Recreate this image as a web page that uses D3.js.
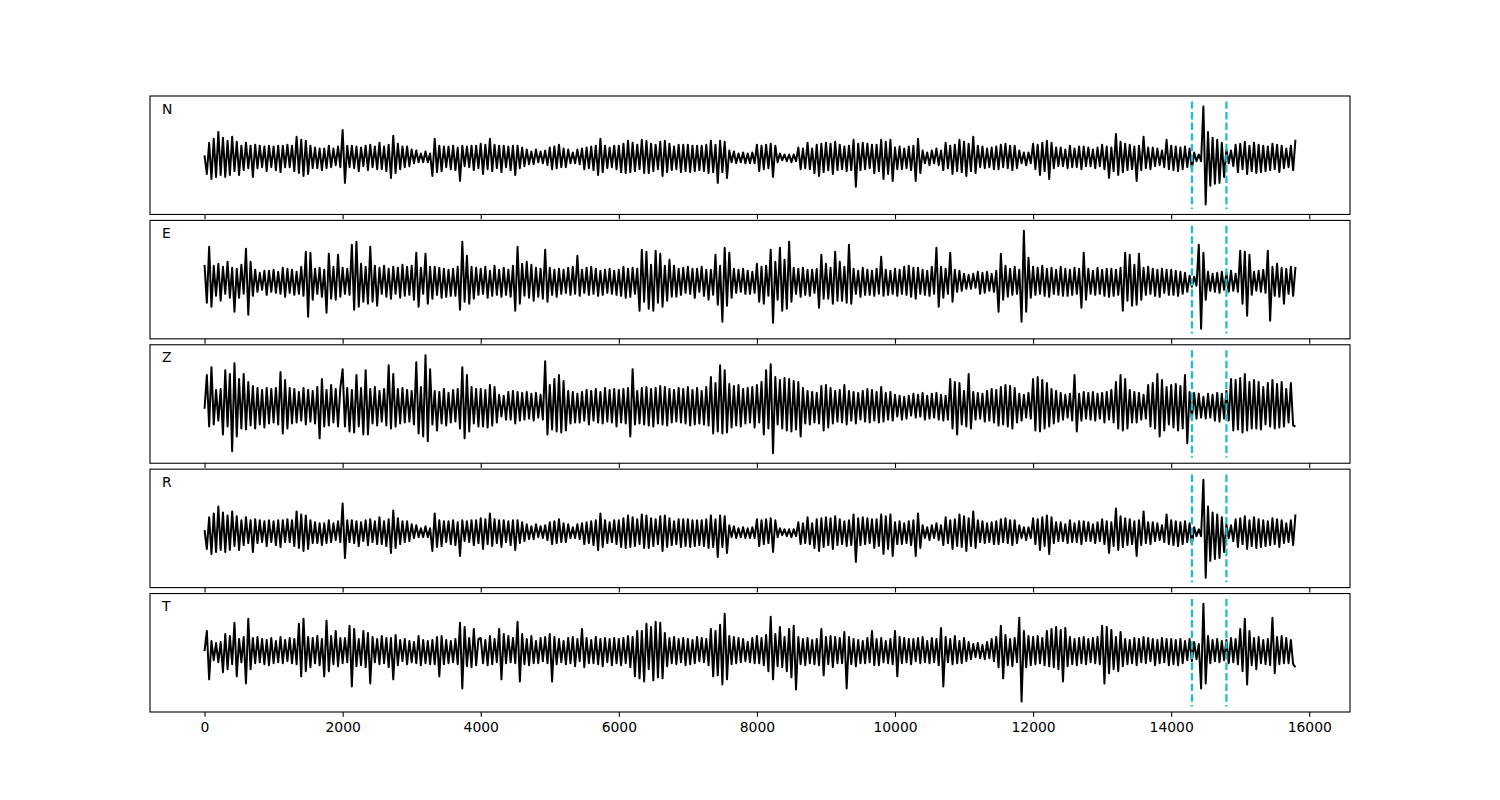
<!DOCTYPE html>
<html>
<head>
<meta charset="utf-8">
<script src="https://cdn.jsdelivr.net/npm/d3@7"></script>
<style>
  body { margin: 0; background: #fff; }
  text { font-family: "DejaVu Sans", sans-serif; }
</style>
</head>
<body>
<script>
// Channel names, one panel each
var channels = ["N", "E", "Z", "R", "T"];

// Sample spacing of the traces below (x units), three samples per 100
var sampleStep = 100 / 3;

// Last sample of every trace
var xEnd = 15800;

// Pick times (dashed cyan lines)
var pickTimes = [14300, 14800];

// X tick values
var xTicks = [0, 2000, 4000, 6000, 8000, 10000, 12000, 14000, 16000];

// Trace values (one row per 2000 x units)
var traceN = [
  2, -17, 15, -22, 19, -20, 26, -18, 20, -20, 17, -18, 21, -14, 16, -18, 12, -13, 15, -11, 12, -20, 13, -11, 12, -10, 11, -14, 12, -10, 11, -13, 12, -15, 12, -10, 13, -10, 12, -14, 21, -16, 18, -19, 17, -17, 12, -11, 10, -11, 9, -13, 9, -11, 12, -10, 9, -8, 11, -10,
  28, -26, 12, -10, 12, -11, 11, -14, 10, -9, 12, -13, 13, -10, 11, -12, 15, -12, 11, -14, 13, -21, 22, -16, 14, -12, 11, -10, 11, -9, 8, -6, 7, -5, 4, -5, 6, -5, 4, -19, 19, -15, 12, -14, 11, -10, 11, -12, 12, -13, 10, -24, 12, -9, 11, -10, 12, -13, 12, -11,
  14, -17, 13, -12, 19, -14, 13, -11, 12, -15, 12, -10, 11, -13, 12, -18, 12, -11, 10, -9, 8, -7, 6, -7, 8, -5, 6, -6, 7, -8, 10, -12, 11, -11, 13, -10, 9, -10, 8, -6, 5, -6, 8, -7, 9, -12, 10, -11, 11, -13, 12, -18, 19, -15, 12, -11, 10, -10, 12, -12,
  12, -15, 14, -16, 17, -15, 15, -14, 13, -12, 18, -16, 17, -16, 14, -14, 13, -12, 16, -19, 17, -15, 14, -13, 11, -12, 13, -15, 13, -14, 13, -15, 12, -14, 12, -13, 12, -14, 13, -16, 17, -15, 13, -26, 17, -15, 16, -21, 7, -5, 6, -6, 4, -5, 5, -6, 4, -6, 5, -6,
  13, -14, 12, -12, 13, -11, 14, -20, 12, -5, 4, -3, 3, -4, 3, -5, 3, -4, 10, -12, 9, -11, 15, -12, 9, -16, 13, -19, 14, -15, 15, -13, 14, -17, 16, -13, 13, -12, 11, -14, 12, -13, 18, -30, 14, -13, 15, -12, 14, -11, 13, -16, 13, -14, 18, -22, 16, -17, 18, -24,
  10, -12, 11, -12, 9, -11, 11, -13, 12, -24, 19, -16, 7, -6, 5, -8, 7, -6, 9, -8, 7, -13, 15, -11, 12, -17, 13, -14, 18, -15, 16, -19, 14, -14, 21, -16, 12, -10, 11, -11, 9, -10, 10, -12, 11, -12, 13, -10, 14, -11, 12, -13, 12, -11, 7, -6, 5, -8, 5, -6,
  14, -12, 13, -18, 15, -14, 17, -22, 15, -11, 10, -9, 10, -9, 8, -11, 12, -10, 9, -10, 11, -12, 11, -9, 10, -9, 8, -11, 10, -9, 13, -12, 11, -21, 10, -14, 24, -18, 16, -15, 14, -13, 13, -12, 11, -24, 12, -13, 21, -11, 10, -12, 10, -9, 9, -8, 7, -10, 18, -12,
  12, -13, 11, -14, 10, -12, 11, -10, 9, -12, 5, -4, 3, -4, 52, -48, 26, -29, 20, -27, 18, -26, 15, -20, 8, -6, 7, -9, 13, -15, 14, -12, 16, -17, 12, -14, 15, -16, 13, -15, 12, -14, 11, -13, 14, -12, 13, -15, 12, -11, 9, -10, 12, -13, 18
];

var traceE = [
  17, -21, 35, -25, 16, -14, 18, -19, 15, -12, 20, -16, 14, -30, 13, -16, 17, -12, 33, -33, 20, -14, 12, -10, 9, -8, 11, -13, 11, -10, 12, -11, 10, -12, 14, -15, 13, -11, 12, -13, 10, -12, 15, -14, 30, -35, 29, -18, 13, -12, 14, -15, 12, -31, 28, -17, 15, -18, 27, -15,
  14, -12, 13, -13, 37, -28, 40, -25, 18, -20, 15, -22, 35, -20, 16, -24, 14, -12, 16, -15, 13, -17, 15, -12, 14, -16, 17, -14, 15, -13, 16, -18, 29, -25, 14, -12, 28, -22, 15, -17, 15, -13, 14, -16, 13, -15, 12, -14, 13, -14, 15, -28, 40, -20, 26, -22, 15, -17, 14, -13,
  13, -12, 15, -16, 11, -14, 16, -13, 12, -15, 14, -13, 12, -15, 16, -29, 35, -22, 18, -14, 20, -16, 17, -19, 14, -15, 13, -17, 32, -20, 14, -13, 12, -15, 13, -12, 12, -11, 14, -13, 15, -12, 26, -14, 12, -11, 14, -13, 15, -12, 13, -14, 11, -13, 12, -11, 13, -12, 11, -13,
  12, -14, 15, -16, 13, -15, 14, -12, 13, -29, 32, -20, 30, -27, 17, -29, 31, -21, 28, -25, 16, -19, 22, -15, 16, -15, 13, -13, 14, -11, 15, -12, 13, -16, 13, -10, 15, -14, 12, -18, 12, -13, 27, -23, 16, -40, 34, -24, 29, -16, 13, -11, 12, -10, 13, -12, 11, -12, 10, -11,
  18, -20, 15, -22, 16, -14, 32, -41, 20, -18, 34, -29, 22, -27, 40, -20, 14, -12, 13, -15, 14, -13, 12, -14, 12, -11, 13, -26, 27, -17, 18, -17, 14, -22, 30, -19, 20, -19, 15, -21, 37, -22, 13, -12, 11, -15, 14, -13, 12, -13, 11, -14, 13, -12, 25, -14, 12, -13, 11, -12,
  13, -14, 12, -12, 15, -13, 16, -15, 14, -17, 14, -12, 12, -13, 11, -14, 15, -12, 34, -25, 15, -16, 13, -12, 29, -20, 12, -10, 11, -9, 8, -7, 7, -7, 8, -6, 10, -12, 9, -11, 10, -9, 8, -10, 11, -30, 28, -18, 16, -15, 13, -13, 15, -12, 12, -40, 51, -30, 24, -16,
  15, -13, 14, -12, 16, -14, 13, -15, 14, -12, 12, -13, 15, -14, 13, -14, 12, -13, 14, -12, 13, -26, 29, -18, 13, -12, 11, -13, 14, -12, 12, -14, 13, -15, 13, -14, 12, -13, 14, -29, 29, -19, 27, -24, 17, -23, 28, -18, 14, -13, 15, -12, 13, -14, 12, -15, 13, -11, 12, -13,
  12, -13, 11, -14, 10, -12, 9, -10, 6, -5, 5, -4, 37, -47, 29, -18, 10, -9, 8, -10, 9, -11, 10, -8, 9, -10, 11, -9, 8, -10, 31, -22, 30, -34, 27, -13, 10, -9, 11, -10, 12, -11, 31, -39, 15, -14, 18, -15, 14, -22, 13, -12, 15, -14, 15
];

var traceZ = [
  -2, 32, -20, 40, -18, 17, -14, 18, -28, 37, -20, 33, -45, 44, -30, 28, -22, 33, -23, 25, -19, 21, -22, 19, -18, 17, -21, 19, -17, 18, -16, 19, -18, 35, -27, 27, -22, 19, -17, 18, -16, 15, -14, 19, -18, 17, -15, 16, -17, 20, -32, 28, -20, 17, -19, 22, -16, 18, -20, 19,
  38, -20, 19, -25, 17, -26, 32, -20, 19, -28, 37, -28, 18, -17, 20, -19, 16, -15, 18, -19, 42, -22, 33, -20, 18, -17, 19, -16, 17, -15, 16, -18, 45, -27, 20, -30, 52, -35, 38, -18, 16, -24, 15, -17, 18, -19, 14, -16, 17, -15, 18, -22, 40, -32, 32, -25, 20, -17, 18, -20,
  18, -20, 17, -21, 22, -19, 20, -16, 12, -10, 11, -13, 15, -13, 16, -17, 15, -14, 14, -13, 15, -12, 13, -14, 14, -11, 12, -13, 46, -28, 22, -23, 28, -25, 32, -26, 26, -24, 16, -17, 15, -16, 13, -16, 15, -14, 17, -18, 16, -14, 18, -16, 15, -17, 19, -15, 17, -16, 18, -20,
  17, -16, 18, -17, 19, -30, 38, -18, 16, -17, 19, -18, 20, -19, 18, -20, 19, -17, 21, -18, 20, -19, 18, -16, 17, -15, 19, -16, 18, -17, 20, -19, 17, -18, 19, -17, 16, -18, 20, -19, 30, -27, 24, -25, 42, -27, 37, -26, 23, -21, 21, -19, 22, -20, 18, -17, 19, -16, 20, -21,
  22, -16, 25, -28, 37, -22, 43, -47, 30, -18, 27, -22, 29, -24, 28, -25, 26, -23, 25, -30, 19, -17, 16, -18, 15, -16, 14, -17, 21, -24, 22, -21, 19, -17, 16, -15, 17, -16, 22, -18, 16, -14, 15, -17, 14, -13, 16, -15, 18, -16, 17, -14, 15, -16, 20, -15, 14, -13, 15, -14,
  12, -10, 11, -13, 10, -12, 11, -9, 13, -11, 12, -10, 14, -13, 11, -12, 13, -11, 14, -13, 12, -14, 11, -13, 28, -22, 25, -28, 24, -18, 16, -20, 33, -22, 15, -13, 14, -12, 13, -15, 16, -14, 18, -16, 17, -19, 20, -18, 22, -20, 21, -22, 19, -16, 13, -14, 12, -11, 14, -12,
  28, -24, 30, -25, 27, -22, 24, -20, 18, -17, 16, -15, 14, -13, 12, -11, 13, -14, 32, -25, 13, -14, 15, -12, 14, -13, 15, -14, 13, -12, 14, -16, 15, -13, 17, -16, 25, -22, 32, -24, 28, -22, 17, -16, 15, -16, 14, -13, 12, -12, 22, -20, 24, -22, 33, -30, 27, -24, 20, -18,
  22, -21, 23, -24, 21, -22, 32, -37, 15, -13, 14, -12, 13, -11, 10, -12, 13, -11, 12, -14, 14, -15, 13, -12, 16, -14, 28, -24, 27, -23, 29, -26, 33, -24, 25, -22, 27, -22, 25, -23, 20, -18, 24, -20, 27, -22, 23, -21, 25, -20, 18, -16, 24, -19, -20
];

var traceR = [
  2, -17, 15, -22, 19, -20, 26, -18, 20, -20, 17, -18, 21, -14, 16, -18, 12, -13, 15, -11, 12, -20, 13, -11, 12, -10, 11, -14, 12, -10, 11, -13, 12, -15, 12, -10, 13, -10, 12, -14, 21, -16, 18, -19, 17, -17, 12, -11, 10, -11, 9, -13, 9, -11, 12, -10, 9, -8, 11, -10,
  29, -26, 12, -10, 12, -11, 11, -14, 10, -9, 12, -13, 13, -10, 11, -12, 15, -12, 11, -14, 13, -21, 22, -16, 14, -12, 11, -10, 11, -9, 8, -6, 7, -5, 4, -5, 6, -5, 4, -19, 19, -15, 12, -14, 11, -10, 11, -12, 12, -13, 10, -24, 12, -9, 11, -10, 12, -13, 12, -11,
  14, -17, 13, -12, 19, -14, 13, -11, 12, -15, 12, -10, 11, -13, 12, -18, 12, -11, 10, -9, 8, -7, 6, -7, 8, -5, 6, -6, 7, -8, 10, -12, 11, -11, 13, -10, 9, -10, 8, -6, 5, -6, 8, -7, 9, -12, 10, -11, 11, -13, 12, -18, 19, -15, 12, -11, 10, -10, 12, -12,
  12, -15, 14, -16, 17, -15, 15, -14, 13, -12, 18, -16, 17, -16, 14, -14, 13, -12, 16, -19, 17, -15, 14, -13, 11, -12, 13, -15, 13, -14, 13, -15, 12, -14, 12, -13, 12, -14, 13, -16, 17, -15, 13, -25, 17, -15, 16, -21, 7, -5, 6, -6, 4, -5, 5, -6, 4, -6, 5, -6,
  13, -14, 12, -12, 13, -11, 14, -20, 12, -5, 4, -3, 3, -4, 3, -5, 3, -4, 10, -12, 9, -11, 15, -12, 9, -16, 13, -19, 14, -15, 15, -13, 14, -17, 16, -13, 13, -12, 11, -14, 12, -13, 18, -30, 14, -13, 15, -12, 14, -11, 13, -16, 13, -14, 18, -22, 16, -17, 18, -24,
  10, -12, 11, -12, 9, -11, 11, -13, 12, -24, 19, -16, 7, -6, 5, -8, 7, -6, 9, -8, 7, -13, 15, -11, 12, -17, 13, -14, 18, -15, 16, -19, 14, -14, 21, -16, 12, -10, 11, -11, 9, -10, 10, -12, 11, -12, 13, -10, 14, -11, 12, -13, 12, -11, 7, -6, 5, -8, 5, -6,
  14, -12, 13, -18, 15, -14, 17, -22, 15, -11, 10, -9, 10, -9, 8, -11, 12, -10, 9, -10, 11, -12, 11, -9, 10, -9, 8, -11, 10, -9, 13, -12, 11, -21, 10, -14, 24, -18, 16, -15, 14, -13, 13, -12, 11, -24, 12, -13, 21, -11, 10, -12, 10, -9, 9, -8, 7, -10, 18, -12,
  12, -13, 11, -14, 10, -12, 11, -10, 9, -12, 5, -4, 3, -4, 53, -46, 26, -29, 20, -27, 18, -26, 15, -20, 8, -6, 7, -9, 13, -15, 14, -12, 16, -17, 12, -14, 15, -16, 13, -15, 12, -14, 11, -13, 14, -12, 13, -15, 12, -11, 9, -10, 12, -13, 18
];

var traceT = [
  0, 20, -28, 10, -9, 8, -11, 9, -21, 17, -18, 15, -13, 28, -25, 12, -11, 14, -32, 32, -18, 13, -12, 14, -11, 12, -13, 11, -14, 13, -12, 10, -11, 14, -12, 11, -10, 13, -12, 12, -13, 27, -25, 32, -20, 14, -16, 13, -12, 15, -14, 12, -25, 30, -20, 15, -13, 20, -15, 13,
  -12, 13, -11, 25, -35, 22, -15, 12, -14, 20, -16, 18, -32, 14, -11, 12, -13, 15, -12, 13, -16, 13, -28, 16, -14, 11, -10, 12, -13, 10, -11, 9, -12, 15, -14, 11, -12, 10, -13, 11, -13, 14, -25, 15, -13, 11, -12, 10, -11, 12, -13, 28, -37, 24, -15, 13, -16, 22, -14, 12,
  13, -12, 11, -14, 15, -13, 12, -11, 22, -28, 17, -12, 15, -11, 13, -12, 29, -30, 17, -13, 12, -14, 15, -12, 10, -12, 13, -10, 14, -12, 17, -30, 14, -13, 12, -11, 10, -13, 13, -12, 14, -15, 12, -10, 22, -16, 13, -12, 11, -12, 14, -13, 12, -15, 13, -11, 12, -14, 13, -12,
  12, -14, 13, -12, 15, -16, 14, -25, 20, -27, 20, -30, 27, -18, 24, -29, 29, -26, 28, -27, 18, -15, 13, -12, 14, -13, 12, -11, 13, -14, 12, -13, 11, -12, 14, -10, 13, -11, 12, -14, 22, -25, 20, -24, 26, -33, 37, -28, 15, -13, 14, -12, 13, -11, 12, -10, 9, -11, 13, -12,
  15, -12, 13, -14, 16, -20, 34, -28, 17, -15, 24, -16, 14, -20, 22, -26, 25, -38, 14, -13, 12, -14, 13, -12, 11, -13, 12, -14, 22, -24, 14, -13, 15, -16, 14, -12, 13, -12, 19, -37, 14, -13, 12, -15, 11, -12, 10, -12, 13, -11, 20, -14, 12, -14, 13, -11, 10, -12, 12, -13,
  20, -25, 14, -12, 13, -11, 12, -13, 12, -10, 13, -12, 14, -11, 10, -12, 13, -11, 12, -14, 23, -35, 14, -11, 12, -13, 15, -12, 10, -12, 13, -10, 9, -8, 7, -6, 8, -7, 6, -8, 9, -7, 12, -10, 14, -16, 25, -27, 16, -14, 12, -15, 13, -11, 33, -50, 20, -16, 15, -14,
  14, -13, 15, -12, 13, -14, 20, -15, 22, -16, 24, -18, 21, -30, 23, -15, 14, -13, 12, -14, 13, -12, 14, -13, 12, -11, 13, -12, 14, -13, 25, -32, 24, -22, 21, -18, 14, -20, 19, -15, 12, -13, 11, -12, 13, -14, 12, -11, 14, -12, 13, -10, 12, -14, 11, -12, 13, -11, 12, -14,
  12, -13, 11, -14, 12, -12, 10, -9, 12, -10, 9, -8, 7, -37, 47, -32, 15, -12, 11, -10, 12, -11, 10, -9, 11, -12, 13, -11, 12, -13, 22, -20, 32, -33, 20, -14, 13, -18, 14, -12, 11, -13, 12, -14, 33, -22, 14, -13, 15, -12, 13, -12, 11, -13, -16
];

var traces = [traceN, traceE, traceZ, traceR, traceT];

function drawChart() {
    var width = 1500, height = 800;
    var left = 150, right = 1350, top = 96, bottom = 712;
    var nPanels = channels.length;
    // panel height with a 5% gap between panels
    var panelH = (bottom - top) / (nPanels + (nPanels - 1) * 0.05);
    var gap = panelH * 0.05;
    var tickLen = 4.86;

    var svg = d3.select("body")
        .append("svg")
        .attr("width", width)
        .attr("height", height);

    svg.append("rect")
        .attr("width", width)
        .attr("height", height)
        .attr("fill", "#fff");

    // shared x scale, 5% margin either side of the data
    var x = d3.scaleLinear()
        .domain([-0.05 * xEnd, 1.05 * xEnd])
        .range([left, right]);

    channels.forEach(function(name, i) {
        var data = traces[i];
        var y0 = top + i * (panelH + gap);
        var y1 = y0 + panelH;

        // pick lines run from 1.1*min to 1.1*max, the axis pads them by 5%
        var lo = d3.min(data) * 1.1;
        var hi = d3.max(data) * 1.1;
        var pad = (hi - lo) * 0.05;
        var y = d3.scaleLinear()
            .domain([lo - pad, hi + pad])
            .range([y1, y0]);

        var g = svg.append("g");

        var line = d3.line()
            .x(function(d, j) { return x(Math.min(j * sampleStep, xEnd)); })
            .y(function(d) { return y(d); });

        g.append("path")
            .datum(data)
            .attr("d", line)
            .attr("fill", "none")
            .attr("stroke", "#000")
            .attr("stroke-width", 2)
            .attr("stroke-linejoin", "round");

        g.selectAll("line.pick")
            .data(pickTimes)
            .enter()
            .append("line")
            .attr("class", "pick")
            .attr("x1", function(d) { return x(d); })
            .attr("x2", function(d) { return x(d); })
            .attr("y1", y(hi))
            .attr("y2", y(lo))
            .attr("stroke", "#17becf")
            .attr("stroke-width", 2.2)
            .attr("stroke-dasharray", "7.4,3.2");

        // frame
        g.append("rect")
            .attr("x", left)
            .attr("y", y0)
            .attr("width", right - left)
            .attr("height", panelH)
            .attr("fill", "none")
            .attr("stroke", "#000")
            .attr("stroke-width", 1.1);

        // x ticks on every panel, labels only on the last one
        var axis = d3.axisBottom(x)
            .tickValues(xTicks)
            .tickSize(tickLen)
            .tickPadding(4.86);
        if (i < nPanels - 1) axis.tickFormat("");
        else axis.tickFormat(d3.format("d"));

        var ax = g.append("g")
            .attr("transform", "translate(0," + y1 + ")")
            .call(axis);
        ax.select(".domain").remove();
        ax.selectAll(".tick line").attr("stroke", "#000").attr("stroke-width", 1.1);
        ax.selectAll(".tick text")
            .attr("fill", "#000")
            .style("font-family", "DejaVu Sans")
            .style("font-size", "13.9px");

        // channel label
        g.append("text")
            .attr("x", left + 12)
            .attr("y", y0 + 17.5)
            .style("font-size", "13.9px")
            .attr("fill", "#000")
            .text(name);
    });
}

drawChart();
</script>
</body>
</html>
